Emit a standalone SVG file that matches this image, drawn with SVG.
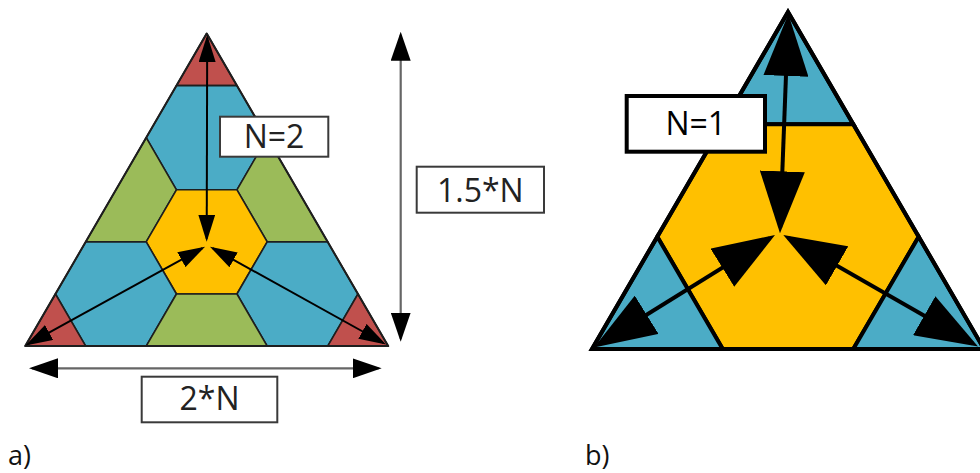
<svg xmlns="http://www.w3.org/2000/svg" width="980" height="473" viewBox="0 0 980 473">
<style>
.r{fill:#C0504D}.b{fill:#4BACC6}.g{fill:#9BBB59}.o{fill:#FFC000}
.ca polygon{stroke:#1e1e1e;stroke-width:1.6;stroke-linejoin:round}
.cb polygon{stroke:#000;stroke-width:4;stroke-linejoin:miter}
.t{font-family:"Open Sans","Liberation Sans",sans-serif;font-size:32px;text-anchor:middle}
.lbl{font-family:"Open Sans","Liberation Sans",sans-serif;font-size:27px;fill:#111}
.boxa{fill:#fff;stroke:#3a3a3a;stroke-width:2}
.boxb{fill:#fff;stroke:#000;stroke-width:4}
.arA{stroke:#000;stroke-width:2;fill:none;marker-start:url(#ha);marker-end:url(#ha)}
.arD{stroke:#666;stroke-width:2.2;fill:none;marker-start:url(#hd);marker-end:url(#hd)}
.arB{stroke:#000;stroke-width:4;fill:none;marker-start:url(#hb);marker-end:url(#hb)}
</style>
<defs>
<marker id="ha" markerUnits="userSpaceOnUse" markerWidth="27" markerHeight="17" refX="24" refY="8.5" orient="auto-start-reverse"><path d="M0,0 L27,8.5 L0,17 Z" fill="#000"/></marker>
<marker id="hd" markerUnits="userSpaceOnUse" markerWidth="29" markerHeight="20" refX="26" refY="10" orient="auto-start-reverse"><path d="M0,0 L29,10 L0,20 Z" fill="#000"/></marker>
<marker id="hb" markerUnits="userSpaceOnUse" markerWidth="62" markerHeight="45" refX="56" refY="22.5" orient="auto-start-reverse"><path d="M0,0 L62,22.5 L0,45 Z" fill="#000"/></marker>
</defs>
<rect width="980" height="473" fill="#fff"/>

<g id="triangle-a" class="ca">
<polygon class="r" points="206.7,33.5 236.95,85.6 176.45,85.6"/>
<polygon class="b" points="176.45,85.6 236.95,85.6 267.2,137.7 236.95,189.8 176.45,189.8 146.2,137.7"/>
<polygon class="g" points="146.2,137.7 176.45,189.8 146.2,241.9 85.7,241.9"/>
<polygon class="g" points="267.2,137.7 327.7,241.9 267.2,241.9 236.95,189.8"/>
<polygon class="o" points="176.45,189.8 236.95,189.8 267.2,241.9 236.95,294 176.45,294 146.2,241.9"/>
<polygon class="b" points="85.7,241.9 146.2,241.9 176.45,294 146.2,346.1 85.7,346.1 55.45,294"/>
<polygon class="b" points="267.2,241.9 327.7,241.9 357.95,294 327.7,346.1 267.2,346.1 236.95,294"/>
<polygon class="g" points="176.45,294 236.95,294 267.2,346.1 146.2,346.1"/>
<polygon class="r" points="25.2,346.1 55.45,294 85.7,346.1"/>
<polygon class="r" points="388.2,346.1 327.7,346.1 357.95,294"/>
<polygon fill="none" style="stroke-width:2" points="206.7,33.5 388.2,346.1 25.2,346.1"/>
</g>

<g id="triangle-b" class="cb">
<polygon class="b" points="788,12 853.3,124.3 722.7,124.3"/>
<polygon class="o" points="722.7,124.3 853.3,124.3 918.7,236.7 853.3,349 722.7,349 657.3,236.7"/>
<polygon class="b" points="592,349 657.3,236.7 722.7,349"/>
<polygon class="b" points="984,349 918.7,236.7 853.3,349"/>
<polygon fill="none" points="788,12 984,349 592,349"/>
</g>

<g id="connectors">
<line class="arA" x1="207.2" y1="38" x2="206.7" y2="238.7"/>
<line class="arA" x1="202.4" y1="248.1" x2="28.1" y2="344.1"/>
<line class="arA" x1="212.6" y1="248.2" x2="383.4" y2="343"/>
<line class="arD" x1="400.7" y1="34.7" x2="400.7" y2="338.7"/>
<line class="arD" x1="32" y1="368.3" x2="378.7" y2="368.3"/>
<line class="arB" x1="788.1" y1="20" x2="780.2" y2="227.3"/>
<line class="arB" x1="769.9" y1="238.2" x2="599.1" y2="344.3"/>
<line class="arB" x1="788.5" y1="238" x2="972.8" y2="343.5"/>
</g>

<g id="label-n2">
<rect class="boxa" x="220" y="116.7" width="108.3" height="40"/>
<text class="t" x="274" y="148.3" fill="#222">N=2</text>
</g>
<g id="label-1-5n">
<rect class="boxa" x="416.7" y="166.7" width="127.3" height="46"/>
<text class="t" x="480.3" y="201.7" fill="#222">1.5*N</text>
</g>
<g id="label-2n">
<rect class="boxa" x="141.7" y="376.7" width="135.6" height="45.6"/>
<text class="t" x="209.5" y="410" fill="#222">2*N</text>
</g>
<g id="label-n1">
<rect class="boxb" x="626.7" y="96" width="138.3" height="55.7"/>
<text class="t" x="695.8" y="135" fill="#000">N=1</text>
</g>
<g id="caption-a"><text class="lbl" x="8" y="465">a)</text></g>
<g id="caption-b"><text class="lbl" x="585" y="465">b)</text></g>
</svg>
